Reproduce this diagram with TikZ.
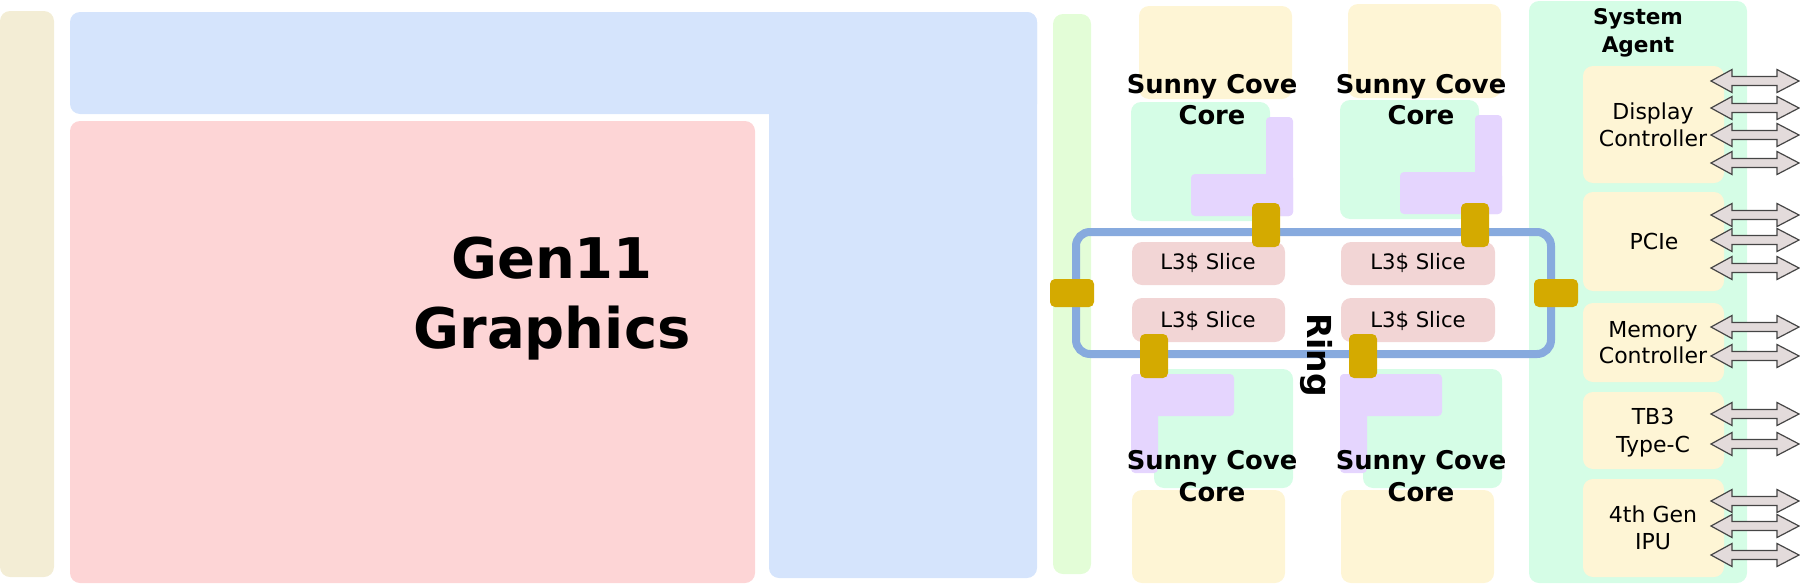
\documentclass[tikz,border=0pt]{standalone}
\usepackage{fontspec}
\setmainfont{DejaVu Sans}
\definecolor{beige}{HTML}{F3EDD5}
\definecolor{gfxblue}{HTML}{D5E4FC}
\definecolor{gfxpink}{HTML}{FDD5D6}
\definecolor{barg}{HTML}{E3FDD7}
\definecolor{pyellow}{HTML}{FEF5D5}
\definecolor{cgreen}{HTML}{D5FDE6}
\definecolor{cpurple}{HTML}{E5D5FE}
\definecolor{lpink}{HTML}{F2D5D5}
\definecolor{gold}{HTML}{D4AA00}
\definecolor{ringblue}{HTML}{87AADE}
\definecolor{arrfill}{HTML}{E3DBDB}
\definecolor{arrline}{HTML}{454545}
\begin{document}
\begin{tikzpicture}[x=0.5pt,y=-0.5pt,
  blk/.style={rounded corners=5pt},
  smallblk/.style={rounded corners=2pt},
  stopbox/.style={fill=gold, rounded corners=2.5pt},
  ringline/.style={draw=ringblue, line width=4pt, rounded corners=7pt},
  lbl/.style={anchor=base, inner sep=0pt},
  bigtitle/.style={lbl, font=\fontsize{28}{34}\selectfont\bfseries},
  coretitle/.style={lbl, font=\fontsize{12.9}{15}\selectfont\bfseries},
  satitle/.style={lbl, font=\fontsize{10.8}{13}\selectfont\bfseries},
  slicetxt/.style={lbl, font=\fontsize{10.6}{13}\selectfont},
  blocktxt/.style={lbl, font=\fontsize{11}{13}\selectfont},
  ringtxt/.style={lbl, font=\fontsize{16.5}{20}\selectfont\bfseries, rotate=-90},
  iofill/.style={fill=arrfill, draw=arrline, line width=0.6pt, line join=miter}
]
\useasboundingbox (0,0) rectangle (1800,584);

% left column and graphics
\fill[beige, blk] (0,11) rectangle (54,577);
\fill[gfxblue, blk] (70,12) rectangle (1037,114);
\fill[gfxblue, blk] (769,12) rectangle (1037,578);
\fill[gfxpink, blk] (70,121) rectangle (755,583);
\node[bigtitle] (gfxA) at (552,278) {Gen11};
\node[bigtitle] (gfxB) at (552,348) {Graphics};

% green bar
\fill[barg, blk] (1053,14) rectangle (1091,574);

% top cores
\fill[pyellow, blk] (1139,6) rectangle (1292,99);
\fill[pyellow, blk] (1348,4) rectangle (1501,98);
\fill[cgreen, blk] (1131,102) rectangle (1270,221);
\fill[cgreen, blk] (1340,100) rectangle (1479,219);
\fill[cpurple, smallblk] (1266,117) rectangle (1293,216);
\fill[cpurple, smallblk] (1191,174) rectangle (1293,216);
\fill[cpurple, smallblk] (1475,115) rectangle (1502,214);
\fill[cpurple, smallblk] (1400,172) rectangle (1502,214);

% bottom cores
\fill[cgreen, blk] (1154,369) rectangle (1293,488);
\fill[cgreen, blk] (1363,369) rectangle (1502,488);
\fill[cpurple, smallblk] (1131,374) rectangle (1158,473);
\fill[cpurple, smallblk] (1131,374) rectangle (1234,416);
\fill[cpurple, smallblk] (1340,374) rectangle (1367,473);
\fill[cpurple, smallblk] (1340,374) rectangle (1442,416);
\fill[pyellow, blk] (1132,490) rectangle (1285,583);
\fill[pyellow, blk] (1341,490) rectangle (1494,583);

% L3 slices
\fill[lpink, blk] (1132,242) rectangle (1285,285);
\fill[lpink, blk] (1341,242) rectangle (1495,285);
\fill[lpink, blk] (1132,298) rectangle (1285,342);
\fill[lpink, blk] (1341,298) rectangle (1495,342);
\node[slicetxt] (s1) at (1208,269) {L3\$ Slice};
\node[slicetxt] (s2) at (1418,269) {L3\$ Slice};
\node[slicetxt] (s3) at (1208,327) {L3\$ Slice};
\node[slicetxt] (s4) at (1418,327) {L3\$ Slice};

% system agent
\fill[cgreen, blk] (1529,1) rectangle (1747,583);
\fill[pyellow, blk] (1583,66) rectangle (1724,183);
\fill[pyellow, blk] (1583,192) rectangle (1724,291);
\fill[pyellow, blk] (1583,303) rectangle (1724,382);
\fill[pyellow, blk] (1583,392) rectangle (1724,469);
\fill[pyellow, blk] (1583,479) rectangle (1724,577);
\node[satitle] (saA) at (1638,24) {System};
\node[satitle] (saB) at (1638,52) {Agent};
\node[blocktxt] (dcA) at (1653,119) {Display};
\node[blocktxt] (dcB) at (1653,146) {Controller};
\node[blocktxt] (pcie) at (1654,249) {PCIe};
\node[blocktxt] (mcA) at (1653,337) {Memory};
\node[blocktxt] (mcB) at (1653,363) {Controller};
\node[blocktxt] (tbA) at (1653,424) {TB3};
\node[blocktxt] (tbB) at (1653,452) {Type-C};
\node[blocktxt] (ipuA) at (1653,522) {4th Gen};
\node[blocktxt] (ipuB) at (1653,549) {IPU};

% ring
\draw[ringline] (1076,232) rectangle (1551,354);
\fill[stopbox] (1252,203) rectangle (1280,247);
\fill[stopbox] (1461,203) rectangle (1489,247);
\fill[stopbox] (1050,279) rectangle (1094,307);
\fill[stopbox] (1534,279) rectangle (1578,307);
\fill[stopbox] (1140,334) rectangle (1168,378);
\fill[stopbox] (1349,334) rectangle (1377,378);
\node[ringtxt] (ring) at (1307,355) {Ring};

% core labels
\node[coretitle] (c1a) at (1212,93) {Sunny Cove};
\node[coretitle] (c1b) at (1212,124) {Core};
\node[coretitle] (c2a) at (1421,93) {Sunny Cove};
\node[coretitle] (c2b) at (1421,124) {Core};
\node[coretitle] (c3a) at (1212,469) {Sunny Cove};
\node[coretitle] (c3b) at (1212,501) {Core};
\node[coretitle] (c4a) at (1421,469) {Sunny Cove};
\node[coretitle] (c4b) at (1421,501) {Core};

% I/O double arrows
\foreach \yy in {81,108,135,163,215,240,268,327,356,414,444,501,526,555}{
  \draw[iofill] (1711,\yy) -- ++(21,-11.5) -- ++(0,7) -- ++(45,0) -- ++(0,-7)
    -- ++(22,11.5) -- ++(-22,11.5) -- ++(0,-7) -- ++(-45,0) -- ++(0,7) -- cycle;
}
\end{tikzpicture}
\end{document}
